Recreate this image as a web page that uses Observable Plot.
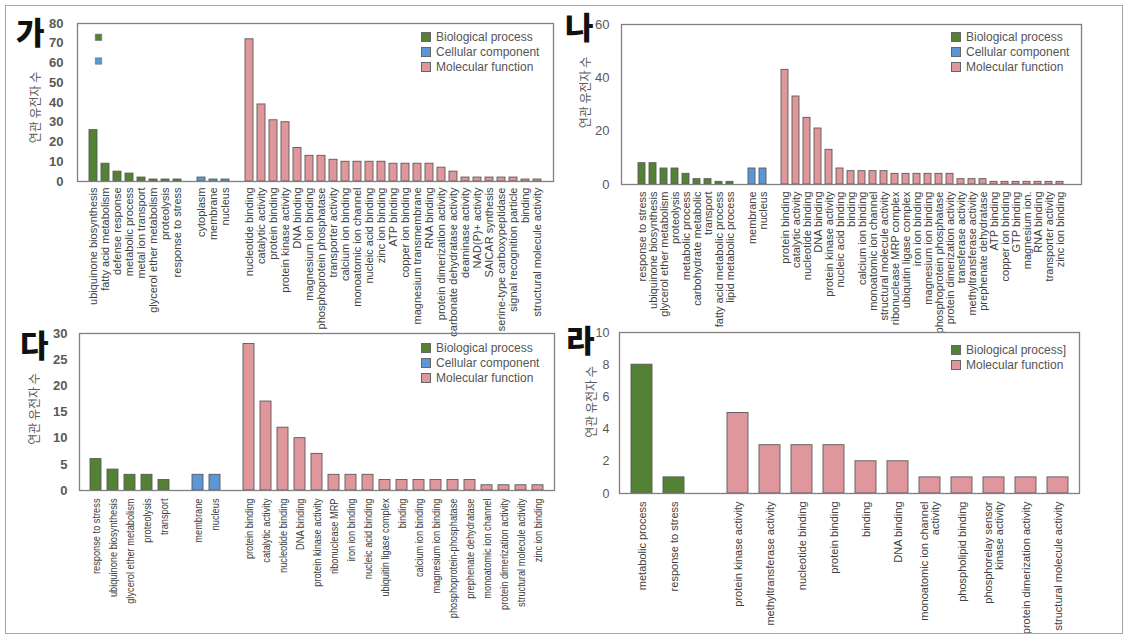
<!DOCTYPE html>
<html><head><meta charset="utf-8">
<script src="https://cdn.jsdelivr.net/npm/d3@7"></script>
<script src="https://cdn.jsdelivr.net/npm/@observablehq/plot@0.6"></script>
<style>
body{margin:0;background:#fff;}
#root{position:relative;width:1133px;height:640px;background:#fff;overflow:hidden;font-family:"Liberation Sans",Arial,sans-serif;}
.panel{position:absolute;}
.letter{position:absolute;font-family:"Noto Sans CJK KR",sans-serif;font-weight:900;font-size:31px;line-height:1;color:#111;}
.legend{position:absolute;font-size:12px;color:#555;}
.legend .row{display:flex;align-items:center;height:14.7px;white-space:nowrap}
.legend .sw{width:10px;height:10px;border:1px solid #666;margin-right:5px;box-sizing:border-box}
#border{position:absolute;left:5px;top:5px;width:1118px;height:629px;border:1.5px solid #a6a6a6;box-sizing:border-box;pointer-events:none}
</style></head>
<body><div id="root"></div>
<script>
// ---------- shared ----------
const groupNames = ["Biological process", "Cellular component", "Molecular function"];
const groupColors = ["#548235", "#5b97d6", "#e0979b"];
const yTitle = "연관 유전자 수";

// ---------- Panel 가 ----------
const bpA = ["ubiquinone biosynthesis","fatty acid metabolism","defense response","metabolic process","metal ion transport","glycerol ether metabolism","proteolysis","response to stress"];
const bpAValues = [26,9,5,4,2,1,1,1];
const ccA = ["cytoplasm","membrane","nucleus"];
const ccAValues = [2,1,1];
const mfA = ["nucleotide binding","catalytic activity","protein binding","protein kinase activity","DNA binding","magnesium ion binding","phosphoprotein phosphatase","transporter activity","calcium ion binding","monoatomic ion channel","nucleic acid binding","zinc ion binding","ATP binding","copper ion binding","magnesium transmembrane","RNA binding","protein dimerization activity","carbonate dehydratase activity","deaminase activity","NAD(P)+ activity","SAICAR synthesis","serine-type carboxypeptidase","signal recognition particle","binding","structural molecule activity"];
const mfAValues = [72,39,31,30,17,13,13,11,10,10,10,10,9,9,9,9,7,5,2,2,2,2,2,1,1];
const yTicksA = [0,10,20,30,40,50,60,70,80];
// stray legend markers left inside panel 가
const strayCats = ["ubiquinone biosynthesis","ubiquinone biosynthesis"];
const strayValues = [73, 61];
const strayGroups = ["Biological process","Cellular component"];

// ---------- Panel 나 ----------
const bpB = ["response to stress","ubiquinone biosynthesis","glycerol ether metabolism","proteolysis","metabolic process","carbohydrate metabolic","transport","fatty acid metabolic process","lipid metabolic process"];
const bpBValues = [8,8,6,6,4,2,2,1,1];
const ccB = ["membrane","nucleus"];
const ccBValues = [6,6];
const mfB = ["protein binding","catalytic activity","nucleotide binding","DNA binding","protein kinase activity","nucleic acid binding","binding","calcium ion binding","monoatomic ion channel","structural molecule activity","ribonuclease MRP complex","ubiquitin ligase complex","iron ion binding","magnesium ion binding","phosphoprotein phosphatase","protein dimerization activity","transferase activity","methyltransferase activity","prephenate dehydratase","ATP binding","copper ion binding","GTP binding","magnesium ion.","RNA binding","transporter activity","zinc ion binding"];
const mfBValues = [43,33,25,21,13,6,5,5,5,5,4,4,4,4,4,4,2,2,2,1,1,1,1,1,1,1];
const yTicksB = [0,20,40,60];

// ---------- Panel 다 ----------
const bpC = ["response to stress","ubiquinone biosynthesis","glycerol ether metabolism","proteolysis","transport"];
const bpCValues = [6,4,3,3,2];
const ccC = ["membrane","nucleus"];
const ccCValues = [3,3];
const mfC = ["protein binding","catalytic activity","nucleotide binding","DNA binding","protein kinase activity","ribonuclease MRP","iron ion binding","nucleic acid binding","ubiquitin ligase complex","binding","calcium ion binding","magnesium ion binding","phosphoprotein-phosphatase","prephenate dehydratase","monoatomic ion channel","protein dimerization activity","structural molecule activity","zinc ion binding"];
const mfCValues = [28,17,12,10,7,3,3,3,2,2,2,2,2,2,1,1,1,1];
const yTicksC = [0,5,10,15,20,25,30];

// ---------- Panel 라 ----------
const bpD = ["metabolic process","response to stress"];
const bpDValues = [8,1];
const mfD = ["protein kinase activity","methyltransferase activity","nucleotide binding","protein binding","binding","DNA binding","monoatomic ion channel\nactivity","phospholipid binding","phosphorelay sensor\nkinase activity","protein dimerization activity","structural molecule activity"];
const mfDValues = [5,3,3,3,2,2,1,1,1,1,1];
const yTicksD = [0,2,4,6,8,10];
const legendD = ["Biological process]", "Molecular function"];
const legendDColors = ["#548235", "#e0979b"];

// ---------- helpers ----------
function buildRows(parts) {
  const rows = [], domain = [];
  let gap = " ";
  parts.forEach((p) => {
    if (!p.labels.length) return;
    if (domain.length) { domain.push(gap); gap += " "; }
    p.labels.forEach((c, j) => { rows.push({cat: c, value: p.values[j], group: p.group}); domain.push(c); });
  });
  return {rows, domain};
}

const root = document.getElementById("root");

function addPanel(cfg) {
  const {rows, domain} = buildRows(cfg.parts);
  const marks = [
    Plot.barY(rows, {x: "cat", y: "value", fill: "group", stroke: "#5a5a5a", strokeWidth: 0.9}),
    Plot.frame({stroke: "#808080", strokeWidth: 1.3}),
    Plot.axisX({tickRotate: -90, tickSize: 0, tickPadding: cfg.xPad, fontSize: cfg.xFont, fill: "#404040",
                fontFamily: "'Liberation Sans', Arial, sans-serif", label: null}),
    Plot.axisY({ticks: cfg.yTicks, tickSize: 0, tickPadding: cfg.yPad, fontSize: cfg.yFont, fontWeight: cfg.yWeight,
                fill: "#595959", label: null}),
    Plot.text([yTitle], {text: d => d, frameAnchor: "left", textAnchor: "middle", lineAnchor: "middle",
                dx: cfg.titleDx, dy: cfg.titleDy, rotate: -90,
                fontSize: 12, fill: "#595959", fontFamily: "Noto Sans CJK KR"})
  ];
  if (cfg.extra) marks.push(...cfg.extra);
  const svg = Plot.plot({
    width: cfg.width, height: cfg.height,
    marginLeft: cfg.ml, marginRight: cfg.mr, marginTop: cfg.mt, marginBottom: cfg.mb,
    style: {background: "transparent", overflow: "visible", fontFamily: "'Liberation Sans', Arial, sans-serif"},
    x: {domain, padding: 0.35, axis: null},
    y: {domain: [0, cfg.yMax], axis: null},
    color: {domain: groupNames, range: groupColors},
    marks
  });
  const wrap = document.createElement("div");
  wrap.className = "panel";
  wrap.style.left = cfg.left + "px";
  wrap.style.top = cfg.top + "px";
  wrap.appendChild(svg);
  root.appendChild(wrap);

  // condensed tick labels (panel 다 uses a narrow face)
  if (cfg.squeeze) {
    svg.querySelectorAll('g[aria-label="x-axis tick label"] text').forEach(t => {
      const L = t.getComputedTextLength();
      if (L > 0) { t.setAttribute("textLength", (L * cfg.squeeze).toFixed(1)); t.setAttribute("lengthAdjust", "spacingAndGlyphs"); }
    });
  }

  const letter = document.createElement("div");
  letter.className = "letter";
  letter.textContent = cfg.letter;
  letter.style.left = cfg.letterPos[0] + "px";
  letter.style.top = cfg.letterPos[1] + "px";
  root.appendChild(letter);

  const lg = document.createElement("div");
  lg.className = "legend";
  lg.style.left = cfg.legendPos[0] + "px";
  lg.style.top = cfg.legendPos[1] + "px";
  cfg.legendNames.forEach((n, i) => {
    const row = document.createElement("div"); row.className = "row";
    const sw = document.createElement("span"); sw.className = "sw"; sw.style.background = cfg.legendColors[i];
    const t = document.createElement("span"); t.textContent = n;
    row.appendChild(sw); row.appendChild(t); lg.appendChild(row);
  });
  root.appendChild(lg);
}

const strayRows = strayCats.map((c, i) => ({cat: c, value: strayValues[i], group: strayGroups[i]}));

addPanel({
  left: 0, top: 0, width: 565, height: 318, ml: 77, mr: 12, mt: 23, mb: 137,
  parts: [{labels: bpA, values: bpAValues, group: groupNames[0]}, {labels: ccA, values: ccAValues, group: groupNames[1]}, {labels: mfA, values: mfAValues, group: groupNames[2]}],
  yMax: 80, yTicks: yTicksA, yFont: 13, yWeight: "bold", yPad: 14,
  xPad: 6, xFont: 11,
  titleDx: -41, titleDy: 5, letter: "가", letterPos: [16, 15],
  legendPos: [421, 30], legendNames: groupNames, legendColors: groupColors,
  extra: [Plot.dot(strayRows, {x: "cat", y: "value", fill: "group", symbol: "square", r: 3.6, dx: 5, stroke: "#6a6a6a", strokeWidth: 0.6})]
});

addPanel({
  left: 560, top: 0, width: 573, height: 318, ml: 61, mr: 52, mt: 24, mb: 134,
  parts: [{labels: bpB, values: bpBValues, group: groupNames[0]}, {labels: ccB, values: ccBValues, group: groupNames[1]}, {labels: mfB, values: mfBValues, group: groupNames[2]}],
  yMax: 60, yTicks: yTicksB, yFont: 13, yWeight: "normal", yPad: 12,
  xPad: 7, xFont: 11,
  titleDx: -35, titleDy: -12, letter: "나", letterPos: [565, 10],
  legendPos: [951, 30], legendNames: groupNames, legendColors: groupColors
});

addPanel({
  left: 0, top: 318, width: 565, height: 316, ml: 79, mr: 11, mt: 15, mb: 144,
  parts: [{labels: bpC, values: bpCValues, group: groupNames[0]}, {labels: ccC, values: ccCValues, group: groupNames[1]}, {labels: mfC, values: mfCValues, group: groupNames[2]}],
  yMax: 30, yTicks: yTicksC, yFont: 13, yWeight: "bold", yPad: 12,
  xPad: 8, xFont: 11, squeeze: 0.84,
  titleDx: -44, titleDy: -3, letter: "다", letterPos: [20, 328],
  legendPos: [421, 341], legendNames: groupNames, legendColors: groupColors
});

addPanel({
  left: 560, top: 318, width: 573, height: 316, ml: 59, mr: 54, mt: 14, mb: 141,
  parts: [{labels: bpD, values: bpDValues, group: groupNames[0]}, {labels: [], values: [], group: groupNames[1]}, {labels: mfD, values: mfDValues, group: groupNames[2]}],
  yMax: 10, yTicks: yTicksD, yFont: 12.5, yWeight: "normal", yPad: 10,
  xPad: 8, xFont: 11,
  titleDx: -27, titleDy: -11, letter: "라", letterPos: [566, 323],
  legendPos: [951, 343], legendNames: legendD, legendColors: legendDColors
});

const border = document.createElement("div");
border.id = "border";
root.appendChild(border);
</script>
</body></html>
